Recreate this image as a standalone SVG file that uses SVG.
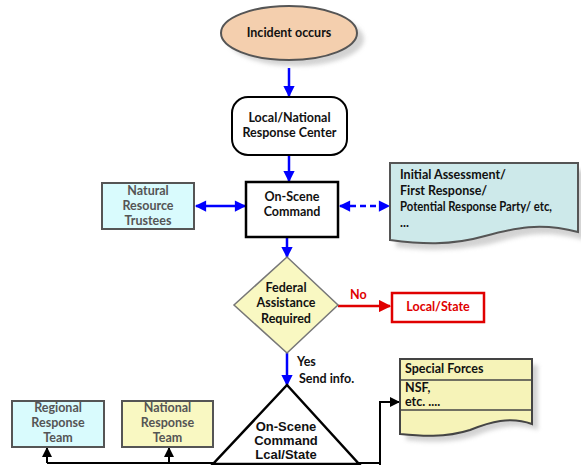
<svg xmlns="http://www.w3.org/2000/svg" width="581" height="465" viewBox="0 0 581 465">
<defs>
<style>
text{font-family:Lato,"Open Sans","Liberation Sans",sans-serif;font-weight:bold;font-size:12.5px;fill:#111;}
.c{text-anchor:middle;}
.g{fill:#555;}
.r{fill:#e00000;}
.a{font-family:"Liberation Sans",Arial,sans-serif;font-size:13px;}
.blue{stroke:#0000ff;stroke-width:2.5;fill:none;}
.blk{stroke:#000;stroke-width:2;fill:none;}
.shadow{fill:#c8c8c8;opacity:0.8;}
</style>
<marker id="ab" viewBox="0 0 10 10" refX="9" refY="5" markerWidth="5" markerHeight="4.5" orient="auto-start-reverse" markerUnits="strokeWidth"><path d="M0,0 L10,5 L0,10 z" fill="#0000ff"/></marker>
<marker id="ar" viewBox="0 0 10 10" refX="9" refY="5" markerWidth="5" markerHeight="5" orient="auto" markerUnits="strokeWidth"><path d="M0,0 L10,5 L0,10 z" fill="#e00000"/></marker>
<marker id="ak" viewBox="0 0 10 10" refX="9" refY="5" markerWidth="5" markerHeight="5" orient="auto" markerUnits="strokeWidth"><path d="M0,0 L10,5 L0,10 z" fill="#000"/></marker>
<filter id="blur"><feGaussianBlur stdDeviation="2"/></filter>
</defs>
<rect width="581" height="465" fill="#fff"/>

<g id="connectors">
<line class="blue" x1="289" y1="68" x2="289" y2="96" marker-end="url(#ab)"/>
<line class="blue" x1="289" y1="155" x2="289" y2="181" marker-end="url(#ab)"/>
<line class="blue" x1="196" y1="206" x2="245" y2="206" marker-start="url(#ab)" marker-end="url(#ab)"/>
<line class="blue" x1="340" y1="206" x2="389" y2="206" stroke-dasharray="6,4" marker-start="url(#ab)" marker-end="url(#ab)"/>
<line class="blue" x1="287" y1="237" x2="287" y2="257" marker-end="url(#ab)"/>
<line x1="338" y1="306" x2="390" y2="306" stroke="#e00000" stroke-width="2.5" marker-end="url(#ar)"/>
<line class="blue" x1="287" y1="353" x2="287" y2="385" marker-end="url(#ab)"/>
<polyline class="blk" points="47,463 380,463 380,466"/>
<line class="blk" x1="47" y1="463" x2="47" y2="448" marker-end="url(#ak)"/>
<line class="blk" x1="169" y1="463" x2="169" y2="448" marker-end="url(#ak)"/>
<polyline class="blk" points="380,465 380,402 399,402" marker-end="url(#ak)"/>
<text x="350" y="299" class="r">No</text>
<text x="297" y="366">Yes</text>
<text x="299" y="383">Send info.</text>
</g>

<g id="incident">
<ellipse cx="296" cy="39" rx="68" ry="27" class="shadow" filter="url(#blur)"/>
<ellipse cx="289" cy="33" rx="68" ry="27" fill="#f4cfae" stroke="#555" stroke-width="2"/>
<text x="289" y="37" class="c">Incident occurs</text>
</g>

<g id="response-center">
<rect x="232" y="97" width="115" height="58" rx="16" fill="#fff" stroke="#000" stroke-width="2"/>
<text x="289.5" y="122" class="c">Local/National</text>
<text x="289.5" y="137" class="c">Response Center</text>
</g>

<g id="on-scene-command">
<rect x="246" y="182" width="92" height="55" fill="#fff" stroke="#000" stroke-width="2.5"/>
<text x="292" y="201" class="c">On-Scene</text>
<text x="292" y="216" class="c">Command</text>
</g>

<g id="trustees">
<rect x="102" y="183" width="92" height="46" fill="#d9fbfd" stroke="#555" stroke-width="2"/>
<text x="148" y="195" class="c g">Natural</text>
<text x="148" y="210" class="c g">Resource</text>
<text x="148" y="225" class="c g">Trustees</text>
</g>

<g id="initial-assessment">
<path d="M396,170 L584,170 L584,240 C540,228 520,236 490,244 C450,252 420,250 396,247 Z" class="shadow" filter="url(#blur)"/>
<path d="M390,163 L578,163 L578,232 C540,222 515,228 485,236 C450,246 420,244 390,240 Z" fill="#cde9ea" stroke="#555" stroke-width="2"/>
<text x="400" y="179">Initial Assessment/</text>
<text x="400" y="195">First Response/</text>
<text x="400" y="211" textLength="152" lengthAdjust="spacingAndGlyphs">Potential Response Party/ etc,</text>
<text x="400" y="227">...</text>
</g>

<g id="federal-assistance">
<polygon points="287,257 338,305 287,353 234,305" fill="#f9f8c2" stroke="#777" stroke-width="1.5"/>
<text x="286" y="292" class="c">Federal</text>
<text x="286" y="307" class="c">Assistance</text>
<text x="286" y="323" class="c">Required</text>
</g>

<g id="local-state">
<rect x="392" y="293" width="92" height="29" fill="#fff" stroke="#e00000" stroke-width="2.5"/>
<text x="438" y="311" class="c r">Local/State</text>
</g>

<g id="osc-local-state">
<polygon points="287,385 359,464 213,464" fill="#fff" stroke="#000" stroke-width="2.5"/>
<text x="286" y="431" class="c a">On-Scene</text>
<text x="286" y="445" class="c a">Command</text>
<text x="286" y="459" class="c a">Lcal/State</text>
</g>

<g id="special-forces">
<path d="M406,365 L538,365 L538,430 C515,422 495,428 475,436 C450,444 425,442 406,440 Z" class="shadow" filter="url(#blur)"/>
<path d="M400,359 L532,359 L532,424 C510,416 490,422 470,430 C445,438 420,436 400,434 Z" fill="#f6f3b8" stroke="#444" stroke-width="2"/>
<line x1="400" y1="380" x2="532" y2="380" stroke="#444" stroke-width="1.5"/>
<line x1="400" y1="410" x2="532" y2="410" stroke="#444" stroke-width="1.5"/>
<text x="405" y="373">Special Forces</text>
<text x="405" y="392">NSF,</text>
<text x="405" y="406">etc. ....</text>
</g>

<g id="regional">
<rect x="12" y="401" width="92" height="46" fill="#d9fbfd" stroke="#555" stroke-width="2"/>
<text x="58" y="412" class="c g">Regional</text>
<text x="58" y="427" class="c g">Response</text>
<text x="58" y="442" class="c g">Team</text>
</g>

<g id="national">
<rect x="122" y="401" width="91" height="46" fill="#f9f8c2" stroke="#555" stroke-width="2"/>
<text x="167.5" y="412" class="c g">National</text>
<text x="167.5" y="427" class="c g">Response</text>
<text x="167.5" y="442" class="c g">Team</text>
</g>
</svg>
